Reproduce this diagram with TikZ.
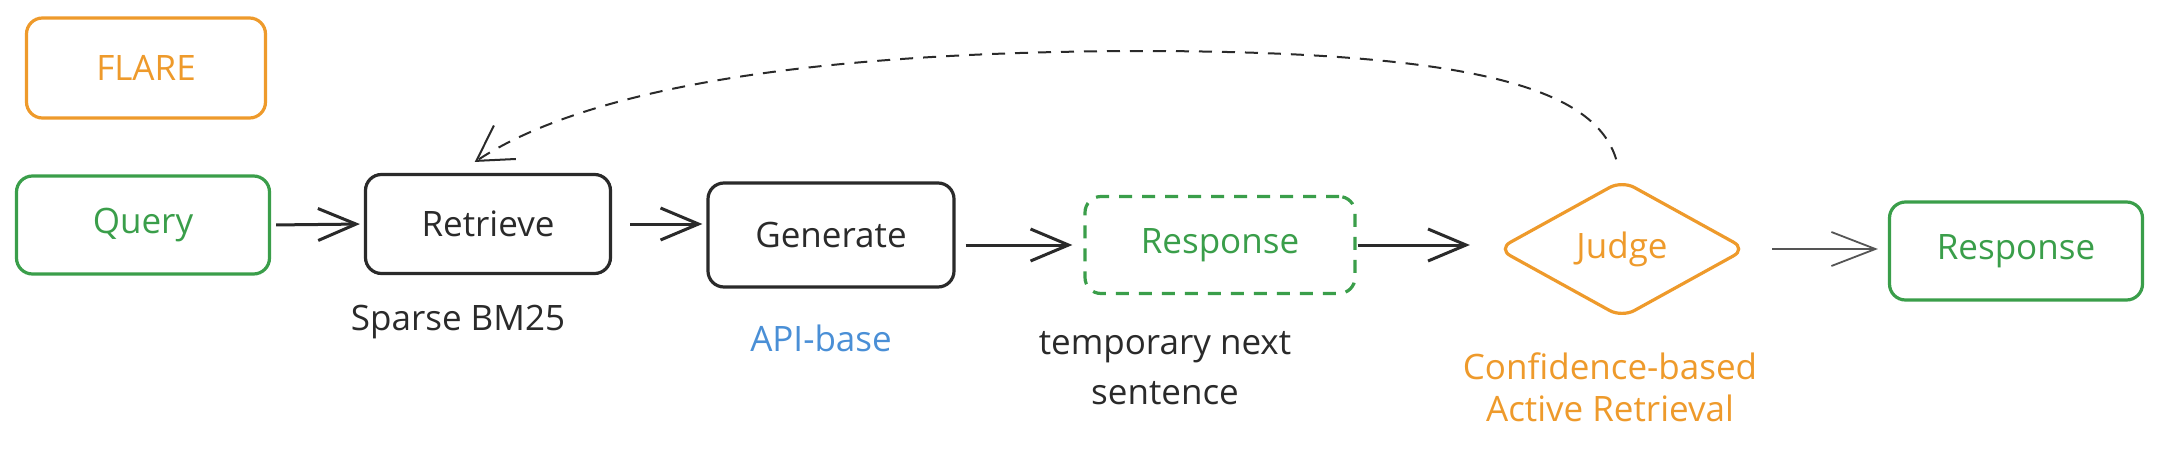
\documentclass[tikz,border=0pt]{standalone}
\usepackage{fontspec}
\setmainfont{Open Sans}
\usetikzlibrary{arrows.meta,shapes.geometric}
\definecolor{cOrange}{HTML}{EE9A2B}
\definecolor{cGreen}{HTML}{3A9E4A}
\definecolor{cBlue}{HTML}{4A8FD6}
\definecolor{cInk}{HTML}{2A2A2A}
\definecolor{cGray}{HTML}{555555}
\tikzset{
  txt/.style={font=\fontsize{35}{42}\selectfont},
  box/.style={txt, draw, rounded corners=16pt, line width=3.2pt, minimum height=98pt, inner sep=0pt},
  judgebox/.style={txt, diamond, draw=cOrange, text=cOrange, line width=3.2pt, rounded corners=14pt,
    minimum width=249pt, minimum height=138pt, inner sep=0pt, aspect=1.8},
  lbl/.style={txt, inner sep=0pt},
  flow/.style={draw=cInk, line width=3pt, -{Straight Barb[length=38pt,width=32pt]}},
  flowthin/.style={draw=cGray, line width=1.8pt, -{Straight Barb[length=44pt,width=34pt]}},
  loopback/.style={draw=cInk, line width=2pt, dash pattern=on 13pt off 10pt,
    -{Straight Barb[length=34pt,width=40pt]}},
}
\begin{document}
\begin{tikzpicture}[x=1pt,y=-1pt]
\useasboundingbox (0,0) rectangle (2164,453);
% nodes
\node[box, draw=cOrange, text=cOrange, minimum width=239pt, minimum height=100pt] (flare) at (146,68) {FLARE};
\node[box, draw=cGreen, text=cGreen, minimum width=253pt] (query) at (143,225) {Query};
\node[box, draw=cInk, text=cInk, minimum width=245pt, minimum height=99pt] (retrieve) at (488,224) {Retrieve};
\node[box, draw=cInk, text=cInk, minimum width=246pt, minimum height=104pt] (generate) at (831,235) {Generate};
\node[box, draw=cGreen, text=cGreen, dash pattern=on 13pt off 10pt, minimum width=270pt, minimum height=97pt] (resp1) at (1220,245) {Response};
\node[judgebox] (judge) at (1622,249) {Judge};
\node[box, draw=cGreen, text=cGreen, minimum width=253pt] (resp2) at (2016,251) {Response};
% labels
\node[lbl, text=cInk] (bm25) at (458,322) {Sparse BM25};
\node[lbl, text=cBlue] (api) at (821,338) {API-base};
\node[lbl, text=cInk, align=center] (tmp) at (1165,368) {temporary next\\[8pt]sentence};
\node[lbl, text=cOrange, align=center] (conf) at (1610,387) {Confidence-based\\Active Retrieval};
% connectors
\draw[flow, shorten <=5pt, shorten >=4pt] (query.east) -- (retrieve.west);
\draw[flow, shorten <=18pt, shorten >=4pt] (retrieve.east) -- (retrieve.east -| generate.west);
\draw[flow, shorten <=10pt, shorten >=11pt] (generate.east |- resp1.west) -- (resp1.west);
\draw[flow, shorten <=1pt, shorten >=26pt] (resp1.east) -- (resp1.east -| judge.west);
\draw[flowthin, shorten <=24pt, shorten >=10pt] (judge.east) -- (judge.east -| resp2.west);
\draw[loopback, shorten <=20pt, shorten >=20pt] (judge.north)
  .. controls (1595,90) and (1480,52) .. (1150,51)
  .. controls (850,51) and (600,80) .. ([xshift=-30pt]retrieve.north);
\end{tikzpicture}
\end{document}
